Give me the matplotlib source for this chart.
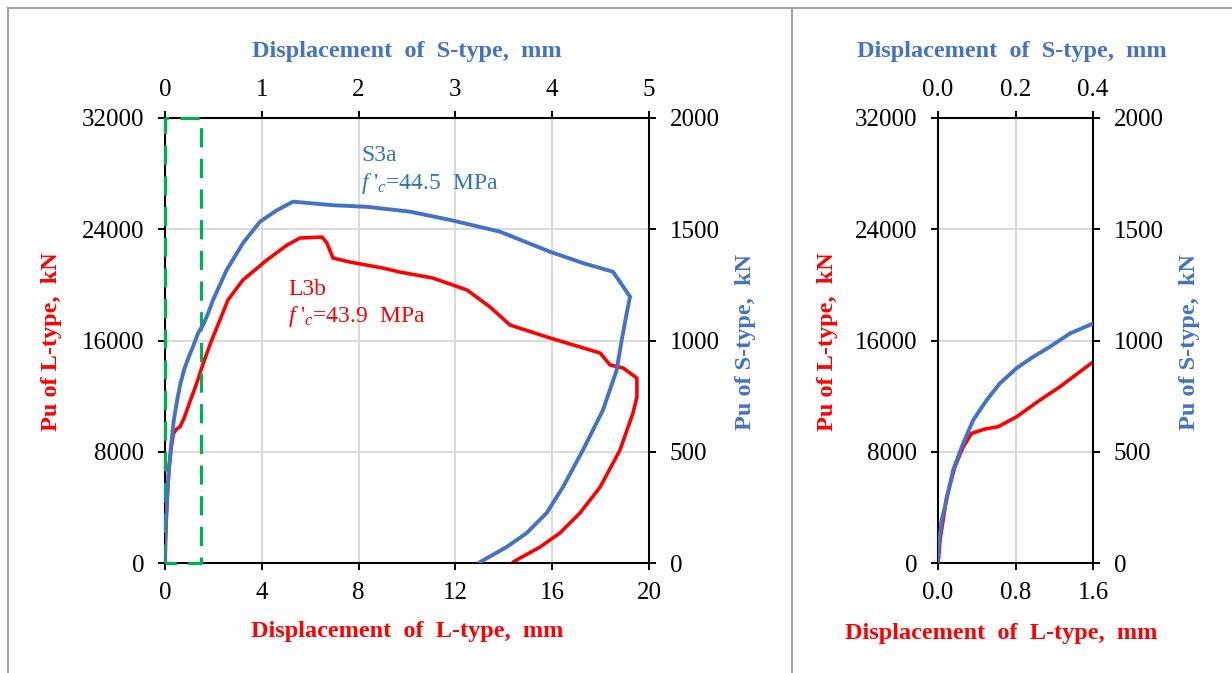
import matplotlib.pyplot as plt
from matplotlib.lines import Line2D

# L-type specimen L3b (bottom / left axes): displacement mm, load kN
l3b_disp = [0, 0.003, 0.021, 0.09, 0.175, 0.261, 0.348, 0.485, 0.622, 0.812, 1.053, 1.259,
            1.603, 1.93, 2.27, 2.6, 3.22, 4.21, 5.04, 5.58, 6.49, 6.69, 6.94, 7.64, 9.0,
            9.71, 11.07, 12.48, 13.43, 14.26, 15.91, 17.98, 18.39, 18.93, 19.5, 19.5,
            19.34, 18.8, 17.98, 17.15, 16.32, 15.5, 14.38, 14.38]
l3b_load = [0, 93, 1654, 4767, 6924, 8362, 9325, 9635, 9800, 10519, 11720, 12676,
            14473, 16030, 17470, 18910, 20350, 21790, 22860, 23370, 23440, 23010, 21930,
            21640, 21210, 20920, 20490, 19630, 18410, 17110, 16180, 15100, 14240, 14020,
            13300, 11940, 10790, 8120, 5460, 3600, 2160, 1150, 70, 0]

# S-type specimen S3a (top / right axes)
s3a_disp = [0, 0.001, 0.0095, 0.022, 0.039, 0.065, 0.091, 0.126, 0.16, 0.203, 0.246, 0.289,
            0.341, 0.401, 0.447, 0.496, 0.637, 0.806, 0.981, 1.154, 1.322, 1.736, 2.084,
            2.531, 2.944, 3.461, 3.977, 4.318, 4.628, 4.804, 4.77, 4.718, 4.666, 4.525,
            4.318, 4.112, 3.943, 3.737, 3.53, 3.254, 3.254]
s3a_load = [0, 73, 193, 283, 418, 538, 643, 733, 808, 876, 927, 972, 1032, 1077, 1124,
            1182, 1317, 1438, 1534, 1585, 1624, 1608, 1601, 1579, 1542, 1489, 1399, 1348,
            1309, 1197, 1124, 1002, 867, 688, 508, 342, 225, 135, 72, 4, 0]

# zoom window shown on the left panel
zoom_x = [0, 1.5]
zoom_y = [0, 32000]

l_yticks = [0, 8000, 16000, 24000, 32000]
s_yticks = [0, 500, 1000, 1500, 2000]
left_l_xticks = [0, 4, 8, 12, 16, 20]
left_s_xticks = [0, 1, 2, 3, 4, 5]
right_l_xticks = [0.0, 0.8, 1.6]
right_s_xticks = [0.0, 0.2, 0.4]

RED = '#FF0000'
BLUE = '#4472C4'
TXTBLUE = '#2E75B6'
GREEN = '#00B050'
GRID = '#D9D9D9'

plt.rcParams['font.family'] = 'Liberation Serif'
plt.rcParams['mathtext.fontset'] = 'custom'
plt.rcParams['mathtext.rm'] = 'Liberation Serif'
plt.rcParams['mathtext.it'] = 'Liberation Serif:italic'

W, H = 1232, 673
fig = plt.figure(figsize=(W / 100, H / 100), dpi=100)


def box(x0, x1, y0, y1):
    return [x0 / W, 1 - y1 / H, (x1 - x0) / W, (y1 - y0) / H]


def panel(rect, lx, lxt, lxl, sx, sxt, sxl):
    ax = fig.add_axes(rect)
    ax.set_xlim(*lx)
    ax.set_ylim(0, 32000)
    ax.set_xticks(lxt, lxl)
    ax.set_yticks(l_yticks, [str(v) for v in l_yticks])
    ax.grid(True, color=GRID, lw=1.4)
    ax.set_axisbelow(True)
    for s in ax.spines.values():
        s.set_linewidth(1.5)
    ax.tick_params(direction='out', length=5, width=1.4, labelsize=18)
    ax.tick_params(axis='x', pad=9)
    ax.tick_params(axis='y', pad=10)

    ax2 = fig.add_axes(rect, frameon=False)
    ax2.set_xlim(*sx)
    ax2.set_ylim(0, 2000)
    ax2.xaxis.tick_top()
    ax2.yaxis.tick_right()
    ax2.set_xticks(sxt, sxl)
    ax2.set_yticks(s_yticks, [str(v) for v in s_yticks])
    ax2.tick_params(direction='out', length=5, width=1.4, labelsize=18)
    ax2.tick_params(axis='x', pad=7)
    ax2.tick_params(axis='y', pad=10)
    return ax, ax2


# left panel
axL, axS = panel(box(165, 649, 118, 563), (0, 20), left_l_xticks,
                 [str(v) for v in left_l_xticks], (0, 5), left_s_xticks,
                 [str(v) for v in left_s_xticks])
axL.plot([zoom_x[0], zoom_x[0], zoom_x[1], zoom_x[1], zoom_x[0]],
         [zoom_y[0], zoom_y[1], zoom_y[1], zoom_y[0], zoom_y[0]],
         color=GREEN, lw=2.3, ls=(0, (6, 3.6)), clip_on=False, zorder=3)
axL.plot(l3b_disp, l3b_load, color=RED, lw=2.6)
axS.plot(s3a_disp, s3a_load, color=BLUE, lw=2.8)

axL.text(8.1, 29300, 'S3a', color=TXTBLUE, fontsize=17, va='center')
axL.text(8.1, 27300, r"$f\ '_{c}$=44.5  MPa", color=TXTBLUE, fontsize=17, va='center')
axL.text(5.1, 19700, 'L3b', color=RED, fontsize=17, va='center')
axL.text(5.1, 17700, r"$f\ '_{c}$=43.9  MPa", color=RED, fontsize=17, va='center')

# right panel (zoom of the initial part)
axL2, axS2 = panel(box(938, 1093, 118, 563), (0, 1.6), right_l_xticks,
                   ['%.1f' % v for v in right_l_xticks], (0, 0.4), right_s_xticks,
                   ['%.1f' % v for v in right_s_xticks])
axL2.plot(l3b_disp, l3b_load, color=RED, lw=2.6)
axS2.plot(s3a_disp, s3a_load, color=BLUE, lw=2.8)

# axis titles
lab = dict(fontsize=17.5, fontweight='bold', ha='center', va='center')
fig.text(407 / W, 1 - 52 / H, 'Displacement  of  S-type,  mm', color=BLUE, **lab)
fig.text(407 / W, 1 - 632 / H, 'Displacement  of  L-type,  mm', color=RED, **lab)
fig.text(52 / W, 1 - 342 / H, 'Pu of L-type,  kN', color=RED, rotation=90, **lab)
fig.text(745 / W, 1 - 342 / H, 'Pu of S-type,  kN', color=BLUE, rotation=90, **lab)
fig.text(1012 / W, 1 - 52 / H, 'Displacement  of  S-type,  mm', color=BLUE, **lab)
fig.text(1001 / W, 1 - 634 / H, 'Displacement  of  L-type,  mm', color=RED, **lab)
fig.text(828 / W, 1 - 342 / H, 'Pu of L-type,  kN', color=RED, rotation=90, **lab)
fig.text(1190 / W, 1 - 342 / H, 'Pu of S-type,  kN', color=BLUE, rotation=90, **lab)

# frame lines of the figure
frame = '#A6A6A6'
fig.add_artist(Line2D([8 / W, 1], [1 - 8 / H, 1 - 8 / H], color=frame, lw=1.5))
fig.add_artist(Line2D([8 / W, 8 / W], [0, 1 - 8 / H], color=frame, lw=1.5))
fig.add_artist(Line2D([792 / W, 792 / W], [0, 1 - 8 / H], color=frame, lw=1.5))

fig.savefig('out.png', dpi=100, facecolor='white')
